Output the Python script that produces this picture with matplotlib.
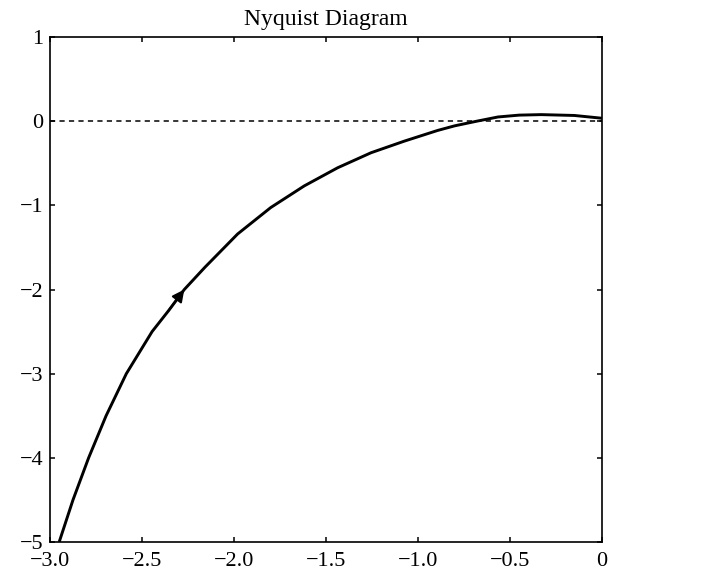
import matplotlib
matplotlib.use("Agg")
import matplotlib.pyplot as plt

re_vals = [-2.95, -2.875, -2.79, -2.695, -2.585, -2.445, -2.355, -2.27,
           -2.158, -1.98, -1.80, -1.618, -1.436, -1.255, -1.074, -0.893, -0.80,
           -0.68, -0.565, -0.45, -0.33, -0.15, 0.0]
im_vals = [-5.0, -4.5, -4.0, -3.5, -3.0, -2.5, -2.25, -2.0,
           -1.736, -1.34, -1.026, -0.769, -0.553, -0.375, -0.237, -0.110, -0.055,
           0.0, 0.05, 0.072, 0.078, 0.068, 0.035]
arrow_idx = 7

xticks = [-3.0, -2.5, -2.0, -1.5, -1.0, -0.5, 0.0]
xticklabels = ["\u22123.0", "\u22122.5", "\u22122.0", "\u22121.5", "\u22121.0", "\u22120.5", "0"]
yticks = [1, 0, -1, -2, -3, -4, -5]
yticklabels = ["1", "0", "\u22121", "\u22122", "\u22123", "\u22124", "\u22125"]

plt.rcParams['font.family'] = ['Liberation Serif', 'DejaVu Serif']

fig = plt.figure(figsize=(7.04, 5.83), dpi=100)
ax = fig.add_axes([0.071, 0.0703, 0.784, 0.8662])

ax.axhline(0, color='black', lw=1.1, ls=(0, (3.4, 2.8)), zorder=1)
ax.plot(re_vals, im_vals, color='black', lw=2.1, zorder=2,
        solid_joinstyle='round', solid_capstyle='butt')
ax.annotate('', xy=(re_vals[arrow_idx], im_vals[arrow_idx]),
            xytext=(re_vals[arrow_idx - 1], im_vals[arrow_idx - 1]),
            arrowprops=dict(arrowstyle='-|>', color='black', lw=1.5,
                            mutation_scale=18, shrinkA=0, shrinkB=0), zorder=3)

ax.set_xlim(-3, 0)
ax.set_ylim(-5, 1)
ax.set_xticks(xticks)
ax.set_xticklabels(xticklabels)
ax.set_yticks(yticks)
ax.set_yticklabels(yticklabels)
ax.tick_params(direction='in', top=True, right=True, length=3.8, width=1.1,
               labelsize=16)
ax.tick_params(axis='x', pad=7)
ax.tick_params(axis='y', pad=5)
for s in ax.spines.values():
    s.set_linewidth(1.2)
ax.set_title('Nyquist Diagram', fontsize=17, pad=9)

fig.savefig('out.png', dpi=100)
